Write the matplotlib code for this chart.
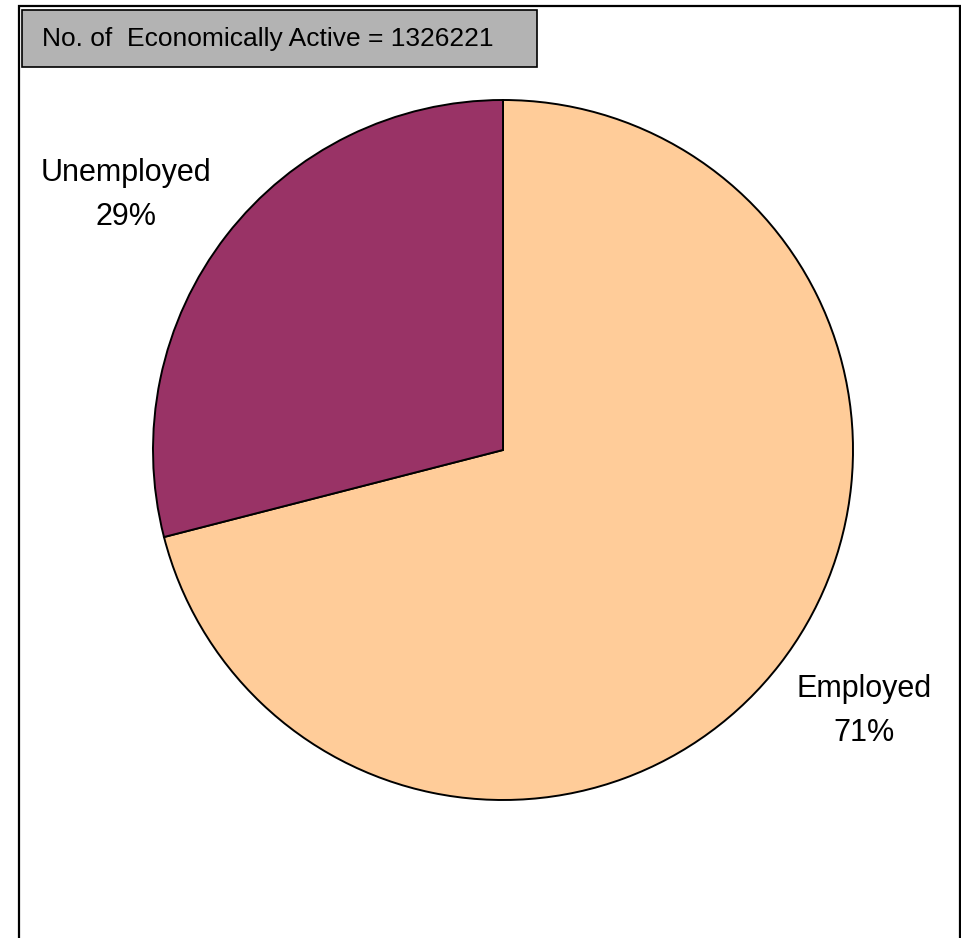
import matplotlib
matplotlib.use("Agg")
import matplotlib.pyplot as plt
from matplotlib.patches import Rectangle

categories = ["Employed", "Unemployed"]
shares = [71, 29]
colors = ["#FFCC99", "#993366"]
total_active = 1326221

W, H = 962, 938
fig = plt.figure(figsize=(W / 100, H / 100), dpi=100)
ax = fig.add_axes([0, 0, 1, 1])

# Pie, clockwise from 12 o'clock
cx, cy, r = 503, H - 450, 350
ax.pie(shares, colors=colors, startangle=90, counterclock=False,
       center=(cx, cy), radius=r, frame=True,
       wedgeprops=dict(edgecolor="black", linewidth=1.4))
ax.set_xlim(0, W)
ax.set_ylim(0, H)
ax.set_aspect("equal")
ax.axis("off")

# Category labels with percentages
label_pos = {"Employed": (864, H - 711), "Unemployed": (126, H - 195)}
for name, val in zip(categories, shares):
    x, y = label_pos[name]
    ax.text(x, y, f"{name}\n{val}%", ha="center", va="center",
            fontsize=22, family="Liberation Sans", linespacing=1.62)

# Outer chart frame (open at the bottom)
ax.plot([19, 19, 960, 960], [-5, H - 6, H - 6, -5], color="black", lw=1.6,
        solid_joinstyle="miter", clip_on=False)

# Title box
ax.add_patch(Rectangle((22, H - 67), 515, 57, facecolor="#B3B3B3",
                       edgecolor="black", lw=1.2))
ax.text(42, H - 38.5, f"No. of  Economically Active = {total_active}",
        ha="left", va="center", fontsize=19, family="Liberation Sans")

fig.savefig("out.png", dpi=100)
